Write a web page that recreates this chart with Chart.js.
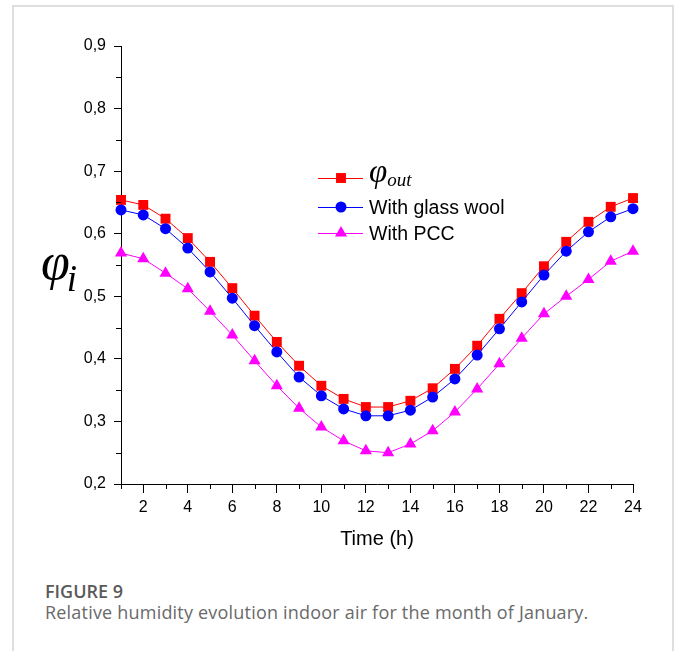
<!DOCTYPE html>
<html>
<head>
<meta charset="utf-8">
<script src="https://cdn.jsdelivr.net/npm/chart.js@4/dist/chart.umd.min.js"></script>
<style>
  html, body { margin: 0; padding: 0; background: #ffffff; }
  body { width: 677px; height: 651px; position: relative; overflow: hidden; }
  #frame { position: absolute; left: 12px; top: 5px; width: 662px; height: 700px; border: 2px solid #dedede; box-sizing: border-box; }
  #c { position: absolute; left: 0; top: 0; }
  #fig { position: absolute; left: 45px; top: 579px; font-family: "Open Sans", "Noto Sans", sans-serif; font-weight: 600; font-size: 18px; color: #5a5a5a; line-height: 24px; }
  #cap { position: absolute; left: 45px; top: 600px; font-family: "Open Sans", "Noto Sans", sans-serif; font-size: 18px; letter-spacing: 0.2px; color: #6a6a6a; white-space: nowrap; line-height: 24px; }
</style>
</head>
<body>
<div id="frame"></div>
<canvas id="c" width="677" height="560"></canvas>
<div id="fig">FIGURE 9</div>
<div id="cap">Relative humidity evolution indoor air for the month of January.</div>
<script>
const hours = [1,2,3,4,5,6,7,8,9,10,11,12,13,14,15,16,17,18,19,20,21,22,23,24];
const phiOut = [0.654,0.646,0.624,0.593,0.555,0.513,0.469,0.427,0.389,0.357,0.336,0.323,0.323,0.333,0.353,0.384,0.421,0.464,0.505,0.548,0.587,0.619,0.643,0.657];
const glassWool = [0.638,0.630,0.608,0.577,0.539,0.497,0.453,0.411,0.371,0.341,0.320,0.309,0.309,0.318,0.339,0.368,0.406,0.448,0.491,0.534,0.572,0.603,0.627,0.640];
const pcc = [0.569,0.560,0.537,0.512,0.476,0.438,0.397,0.357,0.321,0.291,0.269,0.253,0.250,0.264,0.285,0.315,0.352,0.392,0.433,0.472,0.500,0.527,0.556,0.572];
const seriesNames = ["φout", "With glass wool", "With PCC"];
const xTitle = "Time (h)";

const pts = arr => hours.map((h, i) => ({x: h, y: arr[i]}));

const fontSans = "'Liberation Sans', Arial, sans-serif";
const fontSerif = "'Liberation Serif', 'Times New Roman', serif";

const styles = [
  {color: '#ff0000', pointStyle: 'rect', radius: 7},
  {color: '#0000ff', pointStyle: 'circle', radius: 5.5},
  {color: '#ff00ff', pointStyle: 'triangle', radius: 7}
];
const seriesData = [phiOut, glassWool, pcc];

// minor ticks + legend + y-title
const extras = {
  id: 'extras',
  afterDraw(chart) {
    const ctx = chart.ctx;
    const xs = chart.scales.x, ys = chart.scales.y;
    ctx.save();
    ctx.strokeStyle = '#000';
    ctx.lineWidth = 1;
    xs.ticks.forEach(t => {
      if (t.value % 2 !== 0) {
        const px = Math.round(xs.getPixelForValue(t.value)) + 0.5;
        ctx.beginPath(); ctx.moveTo(px, xs.top); ctx.lineTo(px, xs.top + 5); ctx.stroke();
      }
    });
    ys.ticks.forEach(t => {
      const k = Math.round(t.value * 100);
      if (k % 10 !== 0) {
        const py = Math.round(ys.getPixelForValue(t.value)) + 0.5;
        ctx.beginPath(); ctx.moveTo(ys.right, py); ctx.lineTo(ys.right - 5, py); ctx.stroke();
      }
    });
    // legend
    const rows = [178, 207, 233];
    const x0 = 318, x1 = 363, xm = 341, xt = 369;
    rows.forEach((ry, i) => {
      const s = styles[i];
      ctx.strokeStyle = s.color;
      ctx.fillStyle = s.color;
      ctx.lineWidth = 1;
      ctx.beginPath(); ctx.moveTo(x0, ry + 0.5); ctx.lineTo(x1, ry + 0.5); ctx.stroke();
      Chart.helpers.drawPoint(ctx, {pointStyle: s.pointStyle, radius: s.radius, rotation: 0, borderWidth: 0}, xm, ry);
    });
    ctx.fillStyle = '#000';
    ctx.textBaseline = 'alphabetic';
    ctx.textAlign = 'left';
    ctx.font = 'italic 33px ' + fontSerif;
    ctx.fillText(seriesNames[0].charAt(0), xt, 182);
    const wphi = ctx.measureText(seriesNames[0].charAt(0)).width;
    ctx.font = 'italic 19px ' + fontSerif;
    ctx.fillText(seriesNames[0].slice(1), xt + wphi, 186);
    ctx.font = '19.5px ' + fontSans;
    ctx.fillText(seriesNames[1], xt, 214);
    ctx.fillText(seriesNames[2], xt, 240);
    // y title
    ctx.font = 'italic 52px ' + fontSerif;
    ctx.fillText('φ', 41, 279);
    const w2 = ctx.measureText('φ').width;
    ctx.font = 'italic 37px ' + fontSerif;
    ctx.fillText('i', 41 + w2 - 3, 291);
    ctx.restore();
  }
};

new Chart(document.getElementById('c'), {
  type: 'line',
  data: {
    datasets: seriesData.map((arr, i) => ({
      label: seriesNames[i],
      data: pts(arr),
      borderColor: styles[i].color,
      backgroundColor: styles[i].color,
      borderWidth: 1,
      pointStyle: styles[i].pointStyle,
      pointRadius: styles[i].radius,
      pointHoverRadius: styles[i].radius,
      pointBorderWidth: 0,
      tension: 0,
      clip: false
    })).reverse()
  },
  options: {
    responsive: false,
    animation: false,
    devicePixelRatio: 1,
    layout: { padding: { left: 0, top: 46, right: 44, bottom: 0 } },
    plugins: { legend: { display: false }, tooltip: { enabled: false } },
    scales: {
      x: {
        type: 'linear',
        min: 1, max: 24,
        afterFit: s => { s.height = 76; },
        border: { display: true, color: '#000', width: 1 },
        grid: { display: true, drawOnChartArea: false, drawTicks: true, tickLength: 9,
                tickColor: ctx => (ctx.tick && ctx.tick.value % 2 === 0) ? '#000' : 'rgba(0,0,0,0)' },
        ticks: {
          stepSize: 1, autoSkip: false, maxRotation: 0, padding: 5,
          color: '#000', font: { family: fontSans, size: 16 },
          callback: v => (v % 2 === 0 ? String(v) : '')
        },
        title: { display: true, text: xTitle, color: '#000', font: { family: fontSans, size: 20 }, padding: { top: 4, bottom: 9 } }
      },
      y: {
        min: 0.2, max: 0.9,
        afterFit: s => { s.width = 121; },
        border: { display: true, color: '#000', width: 1 },
        grid: { display: true, drawOnChartArea: false, drawTicks: true, tickLength: 7,
                tickColor: ctx => (ctx.tick && Math.round(ctx.tick.value * 100) % 10 === 0) ? '#000' : 'rgba(0,0,0,0)' },
        ticks: {
          stepSize: 0.05, autoSkip: false, padding: 8,
          color: '#000', font: { family: fontSans, size: 16 },
          callback: v => { const k = Math.round(v * 100); return k % 10 === 0 ? (k / 100).toFixed(1).replace('.', ',') : ''; }
        }
      }
    }
  },
  plugins: [extras]
});
</script>
</body>
</html>
